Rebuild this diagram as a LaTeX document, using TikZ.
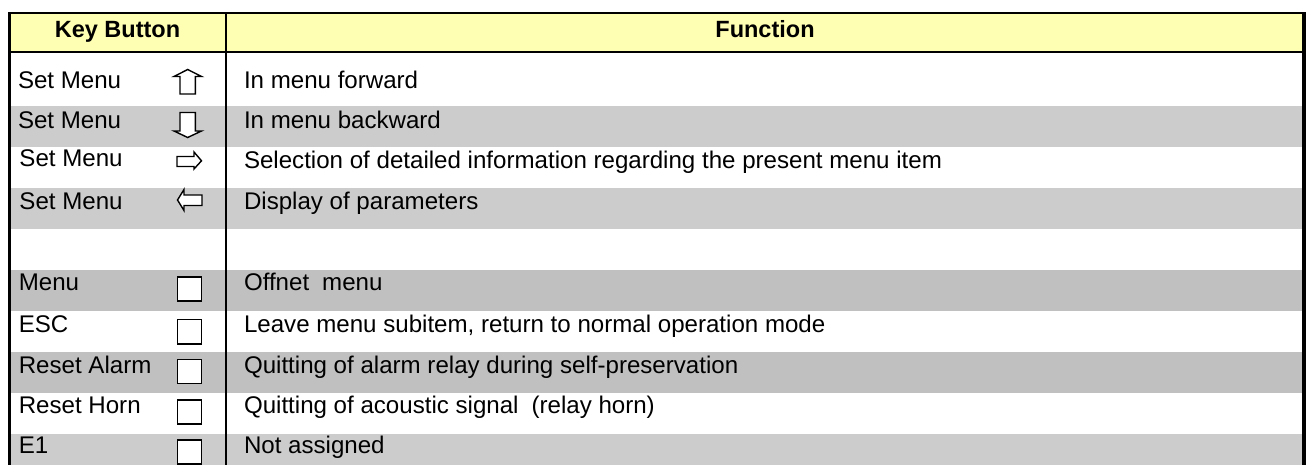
\documentclass[tikz,border=0pt]{standalone}
\usepackage{fontspec}
\setmainfont{Liberation Sans}
\definecolor{hdrfill}{HTML}{FFFFB3}
\definecolor{grayA}{HTML}{CCCCCC}
\definecolor{grayB}{HTML}{C0C0C0}
\begin{document}
\begin{tikzpicture}[x=1pt,y=-1pt,
  txt/.style={inner sep=0pt,outer sep=0pt,anchor=base west,font=\fontsize{24.1}{28}\selectfont},
  hdr/.style={inner sep=0pt,outer sep=0pt,anchor=base,font=\fontsize{23.5}{28}\selectfont\bfseries},
  keyshape/.style={draw=black,fill=white,line width=1.4pt,line join=miter},
  keybox/.style={draw=black,fill=white,line width=1.5pt}]
\useasboundingbox (0,0) rectangle (1308,465);
\fill[white] (0,0) rectangle (1308,465);
% row fills
\fill[hdrfill] (9,13) rectangle (1304,53);
\fill[grayA] (9,106) rectangle (1304,147);
\fill[grayA] (9,188) rectangle (1304,229);
\fill[grayB] (9,270) rectangle (1304,311);
\fill[grayB] (9,352) rectangle (1304,393);
\fill[grayA] (9,434) rectangle (1304,465);
% borders
\draw[line width=2.2pt] (8,13.3) -- (1306,13.3);
\draw[line width=2pt] (9,52.5) -- (1304,52.5);
\draw[line width=3.6pt] (9.3,12.3) -- (9.3,465);
\draw[line width=4pt] (1304,12.3) -- (1304,465);
\draw[line width=2.2pt] (226,13) -- (226,465);
% header
\node[hdr] (h1) at (117.5,37.3) {Key Button};
\node[hdr] (h2) at (765,37.3) {Function};
% key texts
\node[txt] (k1) at (18,88.3) {Set Menu};
\node[txt] (k2) at (18,128.5) {Set Menu};
\node[txt] (k3) at (19.5,167) {Set Menu};
\node[txt] (k4) at (19.5,209.5) {Set Menu};
\node[txt] (k6) at (18.8,290) {Menu};
\node[txt] (k7) at (18.8,332) {ESC};
\node[txt] (k8) at (18.8,373) {Reset Alarm};
\node[txt] (k9) at (18.8,413.5) {Reset Horn};
\node[txt] (k10) at (18.8,453.5) {E1};
% function texts
\node[txt] (f1) at (244,88.3) {In menu forward};
\node[txt] (f2) at (244,128.5) {In menu backward};
\node[txt] (f3) at (244,168) {Selection of detailed information regarding the present menu item};
\node[txt] (f4) at (244,209.5) {Display of parameters};
\node[txt] (f6) at (244,290) {Offnet\kern13pt menu};
\node[txt] (f7) at (244,332) {Leave menu subitem, return to normal operation mode};
\node[txt] (f8) at (244,373) {Quitting of alarm relay during self-preservation};
\node[txt] (f9) at (244,413.5) {Quitting of acoustic signal\kern13pt (relay horn)};
\node[txt] (f10) at (244,453.5) {Not assigned};
% arrow keys
\draw[keyshape] (187.7,69.5) -- (201.5,76.5) -- (195.3,76.5) -- (195.3,94) -- (180,94) -- (180,76.5) -- (174,76.5) -- cycle;
\draw[keyshape] (180,112.5) -- (195.3,112.5) -- (195.3,131) -- (201.5,131) -- (187.7,137.5) -- (174,131) -- (180,131) -- cycle;
\draw[keyshape] (177,156.5) -- (194,156.5) -- (194,152) -- (201.5,160.8) -- (194,169) -- (194,166.5) -- (177,166.5) -- cycle;
\draw[keyshape] (202,195) -- (184,195) -- (184,189.5) -- (177.5,200) -- (184,210.5) -- (184,205.5) -- (202,205.5) -- cycle;
% square keys
\draw[keybox] (177.6,277) rectangle (201.4,301);
\draw[keybox] (177.6,319.5) rectangle (201.4,343.8);
\draw[keybox] (177.6,359.5) rectangle (201.4,383.3);
\draw[keybox] (177.6,400) rectangle (201.4,424);
\draw[keybox] (177.6,440.2) rectangle (201.4,464);
\end{tikzpicture}
\end{document}
